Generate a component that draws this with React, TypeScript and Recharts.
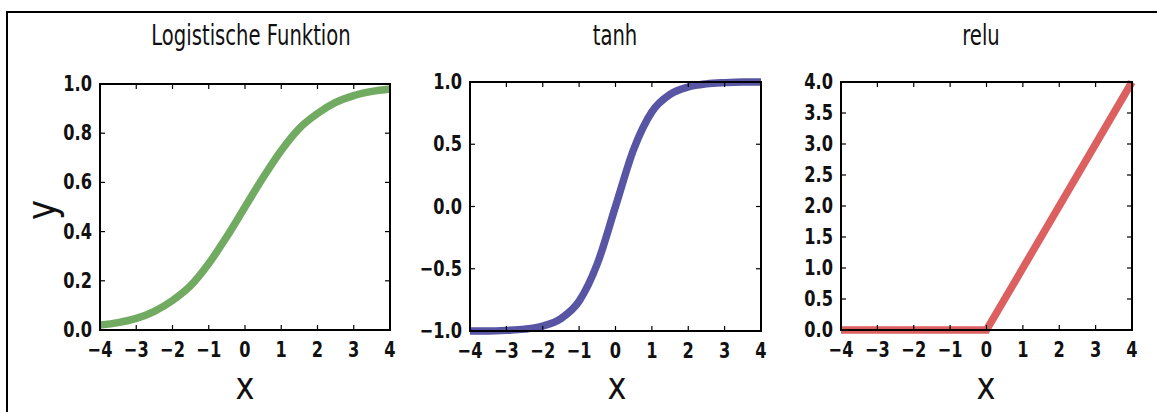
import React from "react";
import { LineChart, Line, XAxis, YAxis, CartesianGrid } from "recharts";

// x positions shared by the two curves
const xValues = [-4, -3.5, -3, -2.5, -2, -1.5, -1, -0.5, 0, 0.5, 1, 1.5, 2, 2.5, 3, 3.5, 4];
// values
const logisticValues = [0.02, 0.03, 0.047, 0.076, 0.12, 0.18, 0.27, 0.38, 0.5, 0.62, 0.73, 0.82, 0.88, 0.925, 0.953, 0.97, 0.98];
const tanhValues = [-1.0, -1.0, -0.995, -0.985, -0.96, -0.9, -0.76, -0.46, 0, 0.46, 0.76, 0.9, 0.96, 0.985, 0.995, 1.0, 1.0];
const reluX = [-4, 0, 4];
const reluValues = [0, 0, 4];

const xTicks = [-4, -3, -2, -1, 0, 1, 2, 3, 4];
const logisticTicks = [0, 0.2, 0.4, 0.6, 0.8, 1.0];
const tanhTicks = [-1, -0.5, 0, 0.5, 1];
const reluTicks = [0, 0.5, 1, 1.5, 2, 2.5, 3, 3.5, 4];

const titles = ["Logistische Funktion", "tanh", "relu"];

const logisticData = xValues.map((x, i) => ({ x, y: logisticValues[i] }));
const tanhData = xValues.map((x, i) => ({ x, y: tanhValues[i] }));
const reluData = reluX.map((x, i) => ({ x, y: reluValues[i] }));

const minus = (s: string) => s.replace("-", "\u2212");
const fmtX = (v: number) => minus(String(v));
const fmtY = (v: number) => minus(v.toFixed(1));

const FONT = "'DejaVu Sans Condensed', 'DejaVu Sans', sans-serif";
const AXIS_LINE = { stroke: "#000", strokeWidth: 2 };
const TICK_LEN = 5;

const LEFT_W = 70;
const PAD = 20;
const BOTTOM_H = 60;

// bottom axis: inward tick + label underneath
const BottomTick = (props: any) => {
  const { x, y, payload } = props;
  return (
    <g>
      <line x1={x} y1={y} x2={x} y2={y - TICK_LEN} stroke="#000" strokeWidth={1.2} />
      <text
        transform={`translate(${x},${y + 27}) scale(1,1.2)`}
        textAnchor="middle"
        fontFamily={FONT}
        fontSize={18}
        fontWeight={700}
        fill="#111"
      >
        {fmtX(payload.value)}
      </text>
    </g>
  );
};

const LeftTick = (props: any) => {
  const { x, y, payload } = props;
  return (
    <g>
      <line x1={x} y1={y} x2={x + TICK_LEN} y2={y} stroke="#000" strokeWidth={1.2} />
      <text
        transform={`translate(${x - 8},${y + 7}) scale(1,1.2)`}
        textAnchor="end"
        fontFamily={FONT}
        fontSize={18}
        fontWeight={700}
        fill="#111"
      >
        {fmtY(payload.value)}
      </text>
    </g>
  );
};

type PanelProps = {
  data: { x: number; y: number }[];
  yDomain: [number, number];
  yTicks: number[];
  color: string;
  left: number;
  right: number;
  top: number;
  bottom: number;
  curve: "monotone" | "linear";
};

function Panel({ data, yDomain, yTicks, color, left, right, top, bottom, curve }: PanelProps) {
  const plotW = right - left;
  const plotH = bottom - top;

  const TopTick = (props: any) => {
    const { x, y } = props;
    return <line x1={x} y1={y} x2={x} y2={y + TICK_LEN} stroke="#000" strokeWidth={1.2} />;
  };

  const RightTick = (props: any) => {
    const { x, y } = props;
    return <line x1={x} y1={y} x2={x - TICK_LEN} y2={y} stroke="#000" strokeWidth={1.2} />;
  };

  return (
    <div style={{ position: "absolute", left: left - LEFT_W, top: top - PAD, width: LEFT_W + plotW + PAD, height: PAD + plotH + BOTTOM_H }}>
      {/* plot frame drawn as a plain box behind the chart */}
      <div
        style={{
          position: "absolute",
          left: LEFT_W - 1,
          top: PAD - 1,
          width: plotW + 2,
          height: plotH + 2,
          boxSizing: "border-box",
          border: "2px solid #000",
          background: "#fff",
        }}
      />
      <div style={{ position: "absolute", left: 0, top: 0 }}>
        <LineChart
          width={LEFT_W + plotW + PAD}
          height={PAD + plotH + BOTTOM_H}
          data={data}
          margin={{ top: PAD - 1, right: PAD - 1, bottom: 0, left: 0 }}
        >
          <CartesianGrid
            xAxisId="b"
            yAxisId="l"
            horizontalPoints={[PAD, PAD + plotH]}
            verticalPoints={[LEFT_W, LEFT_W + plotW]}
            stroke="#000"
            strokeWidth={2}
            strokeDasharray=""
            fill="none"
          />
          <XAxis
            xAxisId="b"
            dataKey="x"
            type="number"
            domain={[-4, 4]}
            ticks={xTicks}
            interval={0}
            height={BOTTOM_H}
            axisLine={AXIS_LINE}
            tickLine={false}
            tickSize={0}
            tickMargin={0}
            tick={<BottomTick />}
          />
          <XAxis
            xAxisId="t"
            orientation="top"
            dataKey="x"
            type="number"
            domain={[-4, 4]}
            ticks={xTicks}
            interval={0}
            height={1}
            axisLine={AXIS_LINE}
            tickLine={false}
            tickSize={0}
            tickMargin={0}
            tick={<TopTick />}
          />
          <YAxis
            yAxisId="l"
            type="number"
            domain={yDomain}
            ticks={yTicks}
            interval={0}
            width={LEFT_W}
            axisLine={AXIS_LINE}
            tickLine={false}
            tickSize={0}
            tickMargin={0}
            tick={<LeftTick />}
          />
          <YAxis
            yAxisId="r"
            orientation="right"
            type="number"
            domain={yDomain}
            ticks={yTicks}
            interval={0}
            width={1}
            axisLine={AXIS_LINE}
            tickLine={false}
            tickSize={0}
            tickMargin={0}
            tick={<RightTick />}
          />
          {/* invisible copy so the top/right tick axes are rendered */}
          <Line
            xAxisId="t"
            yAxisId="r"
            dataKey="y"
            type="linear"
            stroke="none"
            dot={false}
            activeDot={false}
            isAnimationActive={false}
          />
          <Line
            xAxisId="b"
            yAxisId="l"
            dataKey="y"
            type={curve}
            stroke={color}
            strokeWidth={7.5}
            strokeOpacity={0.9}
            dot={false}
            activeDot={false}
            isAnimationActive={false}
          />
        </LineChart>
      </div>
    </div>
  );
}

const titleStyle: React.CSSProperties = {
  position: "absolute",
  top: 20,
  transform: "translateX(-50%) scale(0.7, 1)",
  fontFamily: "'DejaVu Sans', sans-serif",
  fontSize: 28,
  color: "#111",
  whiteSpace: "nowrap",
  lineHeight: "32px",
};

const xLabelStyle: React.CSSProperties = {
  position: "absolute",
  top: 366,
  transform: "translateX(-50%) scale(1, 1.2)",
  fontFamily: "'DejaVu Sans', sans-serif",
  fontSize: 32,
  color: "#111",
  lineHeight: "40px",
};

export default function App() {
  const panels = [
    { left: 100, right: 390, top: 84, bottom: 330 },
    { left: 470, right: 761, top: 82, bottom: 331 },
    { left: 841, right: 1132, top: 82, bottom: 330 },
  ];
  const centers = [251, 615, 981];
  const labelCenters = [245, 617, 986];
  return (
    <div style={{ position: "absolute", left: 0, top: 0, width: 1157, height: 412, background: "#fff", overflow: "hidden" }}>
      <div style={{ position: "absolute", left: 6, top: 11, width: 1160, height: 420, borderLeft: "2px solid #000", borderTop: "2px solid #000" }} />
      {titles.map((t, i) => (
        <div key={t} style={{ ...titleStyle, left: centers[i] }}>{t}</div>
      ))}
      {labelCenters.map((c, i) => (
        <div key={i} style={{ ...xLabelStyle, left: c }}>x</div>
      ))}
      <div
        style={{
          position: "absolute",
          left: 41,
          top: 210,
          transform: "translate(-50%, -50%) rotate(-90deg) scale(1, 1.2)",
          fontFamily: "'DejaVu Sans', sans-serif",
          fontSize: 34,
          color: "#111",
          lineHeight: "40px",
        }}
      >
        y
      </div>
      <Panel data={logisticData} yDomain={[0, 1]} yTicks={logisticTicks} color="#62a150" curve="monotone" {...panels[0]} />
      <Panel data={tanhData} yDomain={[-1, 1]} yTicks={tanhTicks} color="#45439a" curve="monotone" {...panels[1]} />
      <Panel data={reluData} yDomain={[0, 4]} yTicks={reluTicks} color="#d94f4f" curve="linear" {...panels[2]} />
    </div>
  );
}
